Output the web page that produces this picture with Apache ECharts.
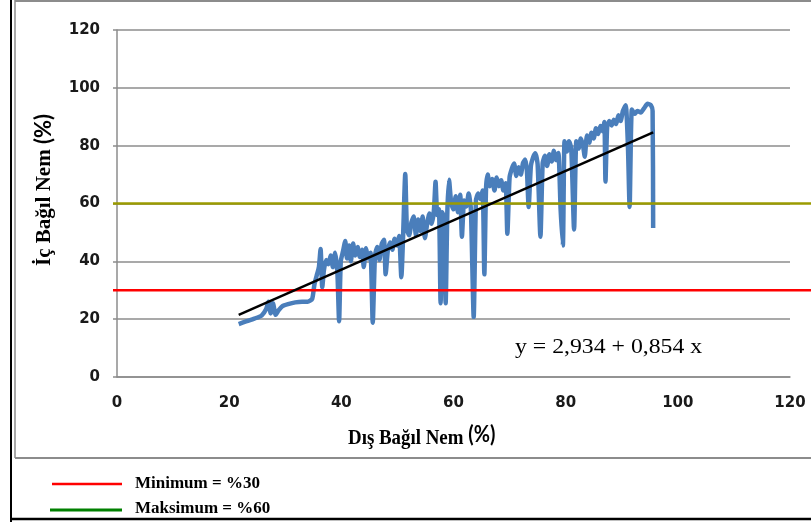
<!DOCTYPE html>
<html>
<head>
<meta charset="utf-8">
<script src="https://cdn.jsdelivr.net/npm/echarts@6/dist/echarts.min.js"></script>
<style>
  html, body { margin: 0; padding: 0; background: #fff; }
  #chart { width: 811px; height: 522px; }
</style>
</head>
<body>
<div id="chart"></div>
<script>
// Outdoor relative humidity (%), in recording order
const outdoorRH = [
  21.7, 23.0, 24.5, 25.8, 26.6, 27.0, 27.4, 27.8, 28.3, 28.8,
  29.5, 30.5, 31.8, 33.0, 34.0, 34.8, 35.2, 35.6, 36.0, 36.3,
  36.6, 36.9, 37.3, 37.7, 38.1, 38.5, 38.9, 39.3, 39.6, 39.9,
  40.3, 40.7, 41.0, 41.4, 41.7, 42.1, 42.5, 42.9, 43.3, 43.7,
  44.0, 44.4, 44.8, 45.2, 45.6, 46.0, 46.4, 46.8, 47.2, 47.6,
  47.9, 48.3, 48.7, 49.1, 49.5, 49.9, 50.3, 50.7, 51.0, 51.4,
  51.7, 52.1, 52.5, 52.9, 53.3, 53.7, 54.1, 54.5, 54.9, 55.3,
  55.7, 56.1, 56.5, 56.8, 57.1, 57.4, 57.7, 58.0, 58.3, 58.6,
  58.9, 59.2, 59.6, 60.0, 60.4, 60.8, 61.2, 61.5, 61.9, 62.3,
  62.7, 63.1, 63.6, 64.0, 64.4, 64.8, 65.2, 65.5, 65.8, 66.1,
  66.5, 66.9, 67.3, 67.7, 68.1, 68.5, 68.9, 69.3, 69.6, 70.0,
  70.4, 70.8, 71.2, 71.6, 72.0, 72.4, 72.8, 73.1, 73.4, 73.8,
  74.2, 74.6, 75.0, 75.5, 75.9, 76.3, 76.7, 77.1, 77.5, 77.9,
  78.3, 78.7, 79.1, 79.5, 79.8, 80.2, 80.6, 81.0, 81.5, 81.9,
  82.3, 82.7, 83.1, 83.4, 83.8, 84.2, 84.6, 85.0, 85.4, 85.8,
  86.2, 86.6, 86.9, 87.1, 87.4, 87.8, 88.2, 88.6, 89.0, 89.4,
  89.8, 90.2, 90.7, 91.1, 91.4, 91.8, 92.3, 92.8, 93.4, 94.0,
  94.6, 95.2, 95.5, 95.6
];
// Indoor relative humidity (%), same order
const indoorRH = [
  18.3, 19.2, 20.2, 21.3, 23.5, 26.0, 22.0, 25.5, 21.5, 23.0,
  24.5, 25.2, 25.8, 26.0, 26.0, 27.0, 32.0, 35.0, 38.0, 44.3,
  31.0, 37.0, 40.5, 39.0, 42.0, 38.0, 43.0, 36.0, 19.3, 40.0,
  43.5, 47.0, 41.0, 45.5, 40.0, 46.2, 42.0, 45.0, 41.5, 44.0,
  38.0, 44.5, 41.0, 43.0, 18.8, 42.0, 45.0, 40.5, 46.0, 47.5,
  35.5, 44.0, 46.5, 44.0, 47.8, 45.5, 48.8, 34.5, 48.0, 70.2,
  51.0, 49.0, 53.5, 55.5, 49.0, 54.5, 50.5, 55.5, 48.0, 53.0,
  56.5, 53.0, 57.5, 67.5, 56.0, 58.0, 25.5, 57.0, 55.0, 25.5,
  57.0, 68.2, 60.0, 58.0, 62.5, 57.0, 63.0, 48.5, 61.0, 59.0,
  63.5, 58.0, 20.8, 61.0, 63.5, 61.5, 64.5, 35.5, 65.0, 70.0,
  66.0, 68.5, 64.5, 69.0, 66.0, 68.0, 64.5, 67.0, 49.5, 69.0,
  72.0, 73.8, 69.5, 72.5, 70.0, 74.0, 75.2, 71.0, 58.8, 73.0,
  76.0, 77.4, 73.5, 48.5, 74.0, 76.5, 73.0, 77.0, 74.5, 78.2,
  75.0, 77.5, 58.0, 45.5, 81.5, 78.0, 81.5, 79.0, 51.0, 81.5,
  79.0, 82.5, 80.0, 76.2, 83.5, 81.0, 84.5, 82.5, 86.0, 84.0,
  86.8, 85.0, 88.2, 67.6, 86.5, 88.5, 87.0, 89.0, 87.5, 90.5,
  88.5, 92.0, 94.0, 80.0, 58.8, 92.5, 91.0, 92.0, 91.5, 93.0,
  94.5, 94.0, 92.0, 51.5
];

// Linear fit stated on the chart: y = a + b x
const fitIntercept = 2.934;
const fitSlope = 0.854;

// Comfort limits for indoor humidity (%)
const minLimit = 30;
const maxLimit = 60;

// Axis ticks
const axisMin = 0;
const axisMax = 120;
const axisStep = 20;

const series = outdoorRH.map((x, i) => [x, indoorRH[i]]);
const xFirst = Math.min(...outdoorRH);
const xLast = Math.max(...outdoorRH);
const fitLine = [xFirst, xLast].map(x => [x, fitIntercept + fitSlope * x]);

const fmt = v => v.toFixed(3).replace('.', ',');
const equation = 'y = ' + fmt(fitIntercept) + ' + ' + fmt(fitSlope) + ' x';

const chart = echarts.init(document.getElementById('chart'), null, { renderer: 'canvas' });

const tickLabel = {
  fontFamily: 'DejaVu Sans',
  fontWeight: 'bold',
  fontSize: 15,
  color: '#1a1a1a'
};

chart.setOption({
  animation: false,
  backgroundColor: '#ffffff',
  grid: { left: 117, right: 21, top: 30, bottom: 145, containLabel: false },
  xAxis: {
    type: 'value',
    min: axisMin, max: axisMax, interval: axisStep,
    axisLine: { show: true, lineStyle: { color: '#8c8c8c', width: 1.5 } },
    axisTick: { show: false },
    splitLine: { show: false },
    axisLabel: Object.assign({ margin: 19 }, tickLabel)
  },
  yAxis: {
    type: 'value',
    min: axisMin, max: axisMax, interval: axisStep,
    axisLine: { show: true, lineStyle: { color: '#8c8c8c', width: 1.5 } },
    axisTick: { show: true, inside: false, length: 4, lineStyle: { color: '#8c8c8c', width: 1.5 } },
    splitLine: { show: true, lineStyle: { color: '#8c8c8c', width: 1.5 } },
    axisLabel: Object.assign({ margin: 17 }, tickLabel)
  },
  series: [
    {
      name: 'İç Bağıl Nem',
      type: 'line',
      data: series,
      symbol: 'none',
      smooth: 0.2,
      lineStyle: { color: '#4a7ebb', width: 4.5 },
      z: 2
    },
    {
      name: 'Trend',
      type: 'line',
      data: fitLine,
      symbol: 'none',
      lineStyle: { color: '#000000', width: 2.5 },
      z: 4
    }
  ]
});

// Limit lines, frame, titles and legend
const yMin = chart.convertToPixel({ yAxisIndex: 0 }, minLimit);
const yMax = chart.convertToPixel({ yAxisIndex: 0 }, maxLimit);
const x0 = chart.convertToPixel({ xAxisIndex: 0 }, axisMin);

const serif = '"Liberation Serif", "Times New Roman", serif';
const sans = 'Lato, "Open Sans", sans-serif';

chart.setOption({
  graphic: [
    // outer frame
    { type: 'line', shape: { x1: 15, y1: 1, x2: 811, y2: 1 }, style: { stroke: '#8c8c8c', lineWidth: 2 } },
    { type: 'line', shape: { x1: 15, y1: 0, x2: 15, y2: 458 }, style: { stroke: '#8c8c8c', lineWidth: 1.5 } },
    { type: 'line', shape: { x1: 15, y1: 458, x2: 811, y2: 458 }, style: { stroke: '#8c8c8c', lineWidth: 2 } },
    { type: 'line', shape: { x1: 11, y1: 0, x2: 11, y2: 522 }, style: { stroke: '#000000', lineWidth: 2 } },
    { type: 'line', shape: { x1: 10, y1: 519, x2: 811, y2: 519 }, style: { stroke: '#000000', lineWidth: 2.5 } },

    // humidity limits
    { type: 'line', z: 3, shape: { x1: x0 - 4, y1: yMin, x2: 811, y2: yMin }, style: { stroke: '#ff0000', lineWidth: 2.5 } },
    { type: 'line', z: 3, shape: { x1: x0 - 4, y1: yMax, x2: 811, y2: yMax }, style: { stroke: '#9b9b00', lineWidth: 2.5 } },

    // regression equation
    { type: 'text', z: 5, x: 515, y: 336, scaleX: 1.08,
      style: { text: equation, font: '22px ' + serif, fill: '#000' } },

    // x-axis title
    { type: 'text', z: 5, x: 348, y: 424, scaleX: 0.9,
      style: {
        text: '{a|Dış Bağıl Nem }{b|(%)}',
        rich: {
          a: { font: 'bold 21px ' + serif, fill: '#000', verticalAlign: 'bottom' },
          b: { font: 'bold 22px ' + sans, fill: '#000', verticalAlign: 'bottom', padding: [0, 0, 3, 0] }
        }
      } },

    // y-axis title
    { type: 'text', z: 5, x: 33, y: 266, rotation: Math.PI / 2,
      style: {
        text: '{a|İç Bağıl Nem }{b|(%)}',
        rich: {
          a: { font: 'bold 21px ' + serif, fill: '#000', verticalAlign: 'bottom' },
          b: { font: 'bold 22px ' + sans, fill: '#000', verticalAlign: 'bottom' }
        }
      } },

    // legend
    { type: 'line', shape: { x1: 52, y1: 484, x2: 122, y2: 484 }, style: { stroke: '#ff0000', lineWidth: 2.5 } },
    { type: 'text', left: 135, top: 475, style: { text: 'Minimum = %30', font: 'bold 17px ' + serif, fill: '#000' } },
    { type: 'line', shape: { x1: 50, y1: 510, x2: 122, y2: 510 }, style: { stroke: '#008000', lineWidth: 3 } },
    { type: 'text', left: 135, top: 500, style: { text: 'Maksimum = %60', font: 'bold 17px ' + serif, fill: '#000' } }
  ]
});
</script>
</body>
</html>
